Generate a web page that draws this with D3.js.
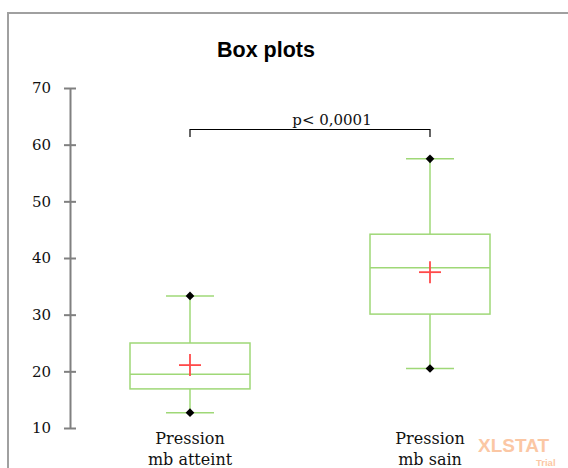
<!DOCTYPE html>
<html>
<head>
<meta charset="utf-8">
<script src="https://cdn.jsdelivr.net/npm/d3@7"></script>
<style>
  html, body { margin: 0; padding: 0; background: #fff; }
  svg { display: block; }
</style>
</head>
<body>
<svg id="chart" width="568" height="468"></svg>
<script>
// Summary statistics for each group
const categories = ["Pression mb atteint", "Pression mb sain"];
const labelLines = [["Pression", "mb atteint"], ["Pression", "mb sain"]];
const minimums = [12.7, 20.5];
const q1s = [16.9, 30.1];
const medians = [19.5, 38.3];
const q3s = [25.0, 44.2];
const maximums = [33.3, 57.5];
const means = [21.1, 37.5];
const yTicks = [10, 20, 30, 40, 50, 60, 70];
const pLabel = "p< 0,0001";

const svg = d3.select("#chart");
const green = "#9fd877";
const serif = "'DejaVu Serif', serif";

// Outer frame
svg.append("rect")
  .attr("x", 8).attr("y", 13)
  .attr("width", 600).attr("height", 500)
  .attr("fill", "none")
  .attr("stroke", "#a0a0a0")
  .attr("stroke-width", 2);

// Title
svg.append("text")
  .attr("x", 266).attr("y", 57)
  .attr("text-anchor", "middle")
  .attr("font-family", "'Liberation Sans', Arial, sans-serif")
  .attr("font-weight", "bold")
  .attr("font-size", 21.5)
  .text("Box plots");

const x = d3.scaleBand().domain(categories).range([70, 550]).padding(0);
const y = d3.scaleLinear().domain([10, 70]).range([428, 88]);

// Y axis
const yAxis = d3.axisLeft(y).tickValues(yTicks).tickSize(0).tickPadding(19);
const gy = svg.append("g").attr("transform", "translate(70,0)").call(yAxis);
gy.select(".domain").attr("stroke", "#808080").attr("stroke-width", 2);
gy.selectAll(".tick text")
  .attr("font-family", serif)
  .attr("font-size", 15)
  .attr("fill", "#111");
gy.selectAll(".tick").append("line")
  .attr("x1", -6).attr("x2", 6)
  .attr("stroke", "#808080").attr("stroke-width", 2);

const bw = x.bandwidth();
const boxW = bw * 0.5;
const capW = bw * 0.2;
const data = categories.map((c, i) => ({
  c, min: minimums[i], q1: q1s[i], med: medians[i], q3: q3s[i], max: maximums[i], mean: means[i], lines: labelLines[i]
}));

const g = svg.selectAll("g.box").data(data).join("g").attr("class", "box")
  .attr("transform", d => `translate(${x(d.c) + bw / 2},0)`);

// Whiskers
g.append("line").attr("x1", 0).attr("x2", 0)
  .attr("y1", d => y(d.q3)).attr("y2", d => y(d.max))
  .attr("stroke", green).attr("stroke-width", 1.5);
g.append("line").attr("x1", 0).attr("x2", 0)
  .attr("y1", d => y(d.q1)).attr("y2", d => y(d.min))
  .attr("stroke", green).attr("stroke-width", 1.5);
// Caps
["min", "max"].forEach(k => {
  g.append("line").attr("x1", -capW / 2).attr("x2", capW / 2)
    .attr("y1", d => y(d[k])).attr("y2", d => y(d[k]))
    .attr("stroke", green).attr("stroke-width", 1.5);
});
// Box
g.append("rect")
  .attr("x", -boxW / 2).attr("width", boxW)
  .attr("y", d => y(d.q3)).attr("height", d => y(d.q1) - y(d.q3))
  .attr("fill", "none").attr("stroke", green).attr("stroke-width", 1.5);
// Median
g.append("line").attr("x1", -boxW / 2).attr("x2", boxW / 2)
  .attr("y1", d => y(d.med)).attr("y2", d => y(d.med))
  .attr("stroke", green).attr("stroke-width", 1.5);
// Mean cross
g.append("line").attr("x1", -11).attr("x2", 11)
  .attr("y1", d => y(d.mean)).attr("y2", d => y(d.mean))
  .attr("stroke", "#ff4a4a").attr("stroke-width", 1.8);
g.append("line").attr("x1", 0).attr("x2", 0)
  .attr("y1", d => y(d.mean) - 11).attr("y2", d => y(d.mean) + 11)
  .attr("stroke", "#ff4a4a").attr("stroke-width", 1.8);
// Min / max markers: squares turned 45 degrees
const marker = d3.symbol().type(d3.symbolSquare).size(38);
["min", "max"].forEach(k => {
  g.append("path")
    .attr("d", marker)
    .attr("transform", d => `translate(0,${y(d[k])}) rotate(45)`)
    .attr("fill", "#000");
});
// Category labels
g.each(function (d) {
  const t = d3.select(this).append("text")
    .attr("text-anchor", "middle")
    .attr("font-family", serif)
    .attr("font-size", 16)
    .attr("fill", "#111");
  d.lines.forEach((ln, j) => {
    t.append("tspan").attr("x", 0).attr("y", 444 + j * 21).text(ln);
  });
});

// Significance bracket
const bx1 = x(categories[0]) + bw / 2, bx2 = x(categories[1]) + bw / 2;
svg.append("path")
  .attr("d", `M${bx1},137V129.5H${bx2}V137`)
  .attr("fill", "none").attr("stroke", "#000").attr("stroke-width", 1.2);
svg.append("text")
  .attr("x", 332).attr("y", 125)
  .attr("text-anchor", "middle")
  .attr("font-family", serif)
  .attr("font-size", 15)
  .attr("fill", "#111")
  .text(pLabel);

// Watermark
svg.append("text")
  .attr("x", 478).attr("y", 452)
  .attr("font-family", "'Liberation Sans', Arial, sans-serif")
  .attr("font-weight", "bold")
  .attr("font-size", 19)
  .attr("fill", "#fbc7a4")
  .text("XLSTAT");
svg.append("text")
  .attr("x", 536).attr("y", 466)
  .attr("font-family", "'Liberation Sans', Arial, sans-serif")
  .attr("font-weight", "bold")
  .attr("font-size", 9.5)
  .attr("fill", "#fbc7a4")
  .text("Trial");
</script>
</body>
</html>
